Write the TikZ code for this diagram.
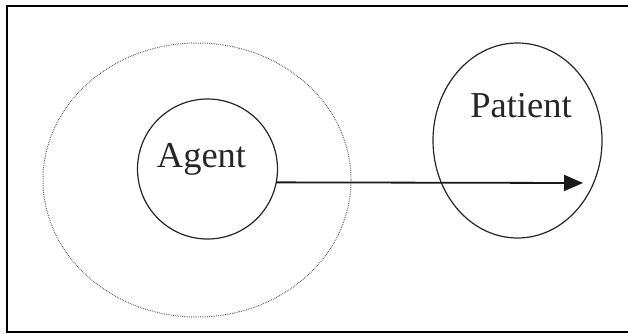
\documentclass[tikz,border=0pt]{standalone}
\usepackage{fontspec}
\setmainfont{Liberation Serif}
\usetikzlibrary{shapes.geometric,arrows.meta}
\begin{document}
\begin{tikzpicture}[x=1pt,y=1pt,
  frameline/.style={line width=2pt,black},
  ring/.style={draw=black!85,line width=1.2pt,inner sep=0pt,outer sep=0pt},
  halo/.style={draw=black!70,line width=1pt,dash pattern=on 0.7pt off 1.1pt,inner sep=0pt,outer sep=0pt},
  lbl/.style={font=\fontsize{36.5}{40}\selectfont,text=black!85,inner sep=0pt,anchor=base},
  link/.style={line width=1.8pt,black!90,-{Triangle[length=19pt,width=16pt]}}]
\useasboundingbox (0,0) rectangle (628,333);
% frame (right side lies beyond the picture)
\draw[frameline] (640,327) -- (7,327) -- (7,1) -- (640,1);
% shapes
\node[halo,ellipse,minimum width=308pt,minimum height=274pt] (scope) at (197,153) {};
\node[ring,circle,minimum size=140pt] (agent) at (207.5,164) {};
\node[ring,ellipse,minimum width=169pt,minimum height=195pt] (patient) at (517.5,192.5) {};
% labels
\node[lbl] (agentlbl) at (201.5,166) {Agent};
\node[lbl] (patientlbl) at (521,216) {Patient};
% arrow
\coordinate (tip) at (583,150);
\draw[link] (agent.-11.5) -- (tip);
\end{tikzpicture}
\end{document}
